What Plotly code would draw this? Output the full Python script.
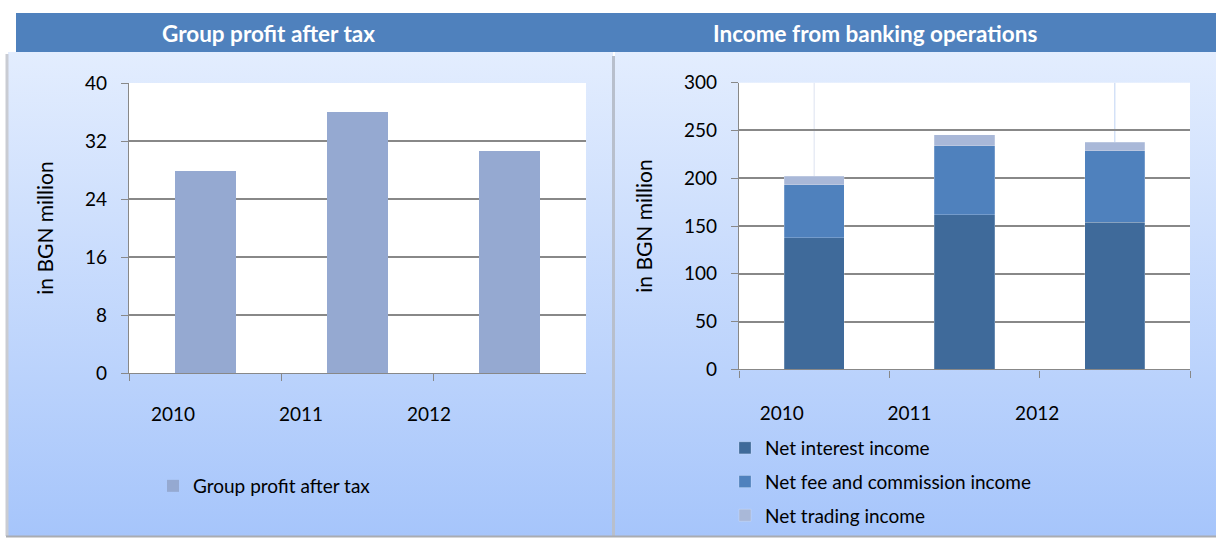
import base64
import plotly.graph_objects as go

# ---- data -------------------------------------------------------------
years = ["2010", "2011", "2012"]
profit_after_tax = [27.9, 36.0, 30.6]

net_interest_income = [137.5, 162.0, 154.0]
net_fee_commission = [55.5, 72.0, 75.0]
net_trading_income = [9.0, 11.5, 8.7]

left_title = "Group profit after tax"
right_title = "Income from banking operations"
y_title = "in BGN million"

# ---- canvas -----------------------------------------------------------
W, H = 1216, 539
FONT = "Lato"
HEADER = "#4f81bd"
GRID = "#888888"


def px_x(v):
    return v / W


def px_y(v):
    return 1 - v / H


def gradient_uri(top, bottom):
    svg = (
        '<svg xmlns="http://www.w3.org/2000/svg" width="100" height="100" preserveAspectRatio="none">'
        '<defs><linearGradient id="g" x1="0" y1="0" x2="0" y2="1">'
        f'<stop offset="0" stop-color="{top}"/><stop offset="1" stop-color="{bottom}"/>'
        '</linearGradient></defs><rect width="100" height="100" fill="url(#g)"/></svg>'
    )
    return "data:image/svg+xml;base64," + base64.b64encode(svg.encode()).decode()


fig = go.Figure()

# left chart: single series
fig.add_trace(go.Bar(
    x=years, y=profit_after_tax, name="Group profit after tax",
    marker=dict(color="#95a9d1", line=dict(width=0)),
    xaxis="x", yaxis="y", legend="legend", width=0.4,
))

# right chart: stacked income components
for name, vals, col in [
    ("Net interest income", net_interest_income, "#3f6a9a"),
    ("Net fee and commission income", net_fee_commission, "#4f81bd"),
    ("Net trading income", net_trading_income, "#a9b8d8"),
]:
    fig.add_trace(go.Bar(
        x=years, y=vals, name=name, legendgroup=name,
        marker=dict(color=col, line=dict(width=0.6, color="rgba(255,255,255,0.35)")),
        xaxis="x2", yaxis="y2", legend="legend2", width=0.4,
    ))

# year labels sit on their own category axes beneath each chart
for xa, ya in [("x3", "y3"), ("x4", "y4")]:
    fig.add_trace(go.Scatter(
        x=years, y=[0] * len(years), mode="markers", marker=dict(opacity=0),
        xaxis=xa, yaxis=ya, showlegend=False, hoverinfo="skip",
    ))

tick_font = dict(family=FONT, size=19, color="#000000")

xaxis_common = dict(
    type="category", categoryorder="array", categoryarray=years, range=[-0.5, 2.5],
    showgrid=False, showline=True, linecolor=GRID, linewidth=1.4,
    ticks="outside", tickson="boundaries", ticklen=7, tickcolor=GRID, tickwidth=1.4,
    showticklabels=False, fixedrange=True, automargin=False,
)
yaxis_common = dict(
    showgrid=True, gridcolor=GRID, gridwidth=1.5, showline=True, linecolor=GRID,
    linewidth=1.4, ticks="outside", ticklen=7, tickcolor=GRID, tickwidth=1.4,
    tickfont=tick_font, zeroline=False, fixedrange=True, automargin=False,
    ticklabelstandoff=10,
    title=dict(text=y_title, font=dict(family=FONT, size=21, color="#000"), standoff=25),
)
label_x_common = dict(
    type="category", categoryorder="array", categoryarray=years, range=[-0.5, 2.5],
    showgrid=False, showline=False, ticks="", tickfont=tick_font, tickangle=0,
    fixedrange=True, automargin=False, zeroline=False,
)
label_y_common = dict(visible=False, showgrid=False, zeroline=False, fixedrange=True, range=[0, 1])

fig.update_layout(
    width=W, height=H, margin=dict(l=0, r=0, t=0, b=0, autoexpand=False),
    paper_bgcolor="white", plot_bgcolor="rgba(0,0,0,0)",
    barmode="stack", showlegend=True,
    xaxis=dict(domain=[px_x(129), px_x(586)], anchor="y", **xaxis_common),
    yaxis=dict(domain=[px_y(373), px_y(83)], anchor="x", range=[0, 40], dtick=8, **yaxis_common),
    xaxis2=dict(domain=[px_x(739), px_x(1190)], anchor="y2", **xaxis_common),
    yaxis2=dict(domain=[px_y(369.3), px_y(82.7)], anchor="x2", range=[0, 300], dtick=50, **yaxis_common),
    xaxis3=dict(domain=[px_x(109), px_x(493)], anchor="y3", **label_x_common),
    yaxis3=dict(domain=[px_y(401), px_y(399)], anchor="x3", **label_y_common),
    xaxis4=dict(domain=[px_x(718), px_x(1101)], anchor="y4", **label_x_common),
    yaxis4=dict(domain=[px_y(400), px_y(398)], anchor="x4", **label_y_common),
    legend=dict(
        x=px_x(153), y=px_y(467), xanchor="left", yanchor="top",
        bgcolor="rgba(0,0,0,0)", font=dict(family=FONT, size=19, color="#000"),
        itemwidth=30, tracegroupgap=0,
    ),
    legend2=dict(
        x=px_x(725), y=px_y(429), xanchor="left", yanchor="top",
        bgcolor="rgba(0,0,0,0)", font=dict(family=FONT, size=19, color="#000"),
        traceorder="grouped", itemwidth=30, tracegroupgap=6,
    ),
    font=dict(family=FONT),
)

# panel backgrounds (vertical gradient)
for x0, x1 in [(8, 613), (615, 1216)]:
    fig.add_layout_image(dict(
        source=gradient_uri("#e3edfe", "#a6c5fb"), xref="paper", yref="paper",
        x=px_x(x0), y=px_y(52), sizex=(x1 - x0) / W, sizey=(536 - 52) / H,
        xanchor="left", yanchor="top", sizing="stretch", layer="below",
    ))

shapes = [
    # white plot areas over the panel gradient
    dict(type="rect", xref="x domain", yref="y domain", x0=0, x1=1, y0=0, y1=1,
         fillcolor="white", line=dict(width=0), layer="below"),
    dict(type="rect", xref="x2 domain", yref="y2 domain", x0=0, x1=1, y0=0, y1=1,
         fillcolor="white", line=dict(width=0), layer="below"),
    # faint vertical guides in the right chart
    dict(type="line", xref="x2", yref="y2", x0=0, x1=0, y0=0, y1=300,
         line=dict(color="rgba(205,215,235,0.7)", width=1), layer="below"),
    dict(type="line", xref="x2", yref="y2", x0=2, x1=2, y0=237.5, y1=300,
         line=dict(color="rgba(175,200,240,0.8)", width=1), layer="below"),
    # header band
    dict(type="rect", xref="paper", yref="paper", x0=px_x(16), x1=1, y0=px_y(52), y1=px_y(13),
         fillcolor=HEADER, line=dict(width=0), layer="below"),
    # left panel shadow and divider
    dict(type="line", xref="paper", yref="paper", x0=px_x(7), x1=px_x(7), y0=px_y(536), y1=px_y(54),
         line=dict(color="#c9ccd3", width=3), layer="below"),
    dict(type="line", xref="paper", yref="paper", x0=px_x(613.5), x1=px_x(613.5), y0=px_y(536), y1=px_y(56),
         line=dict(color="#b8bfcc", width=3), layer="below"),
    # bottom edge
    dict(type="line", xref="paper", yref="paper", x0=px_x(6), x1=1, y0=px_y(536.5), y1=px_y(536.5),
         line=dict(color="#a9acb2", width=2), layer="below"),
]
fig.update_layout(shapes=shapes)

for text, cx in [(left_title, 268.5), (right_title, 875)]:
    fig.add_annotation(
        text=f"<b>{text}</b>", xref="paper", yref="paper", x=px_x(cx), y=px_y(34),
        xanchor="center", yanchor="middle", showarrow=False,
        font=dict(family=FONT, size=22.5, color="white"),
    )

fig.write_html("out.html")
